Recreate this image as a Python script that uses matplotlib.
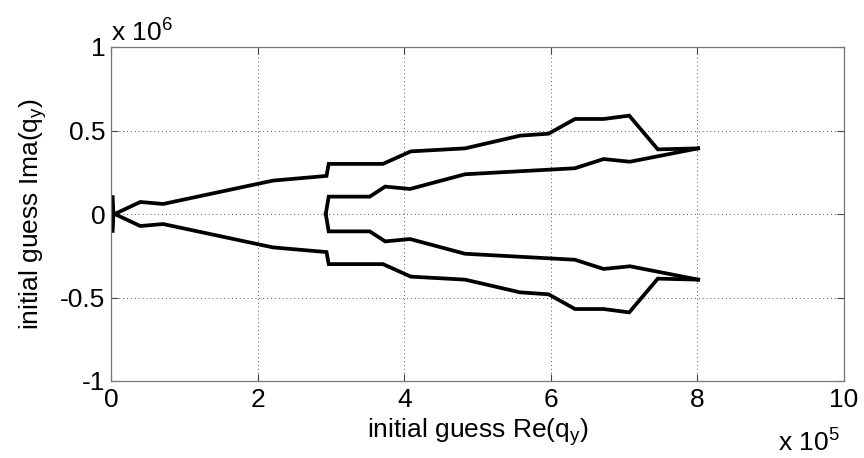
import numpy as np
import matplotlib
matplotlib.use('Agg')
import matplotlib.pyplot as plt

plt.rcParams['font.family'] = ['Liberation Sans', 'DejaVu Sans']
plt.rcParams['mathtext.fontset'] = 'custom'
plt.rcParams['mathtext.rm'] = 'Liberation Sans'

# values, x in units of 1e5, y in units of 1e6
outer_x = [0.05, 0.40, 0.71, 2.21, 2.94, 2.97, 3.71, 4.09, 4.83, 5.58, 5.97,
           6.33, 6.72, 7.07, 7.46, 8.01]
outer_y = [0.0, 0.072, 0.06, 0.20, 0.228, 0.30, 0.30, 0.375, 0.393, 0.469,
           0.481, 0.569, 0.569, 0.589, 0.387, 0.393]

inner_x = [2.93, 2.97, 3.53, 3.74, 4.08, 4.83, 6.33, 6.72, 7.08, 8.01]
inner_y = [0.0, 0.104, 0.104, 0.164, 0.150, 0.238, 0.274, 0.329, 0.313, 0.393]

start_x = [0.02, 0.03, 0.02]
start_y = [0.10, 0.0, -0.10]

x_ticks = [0, 2, 4, 6, 8, 10]
y_ticks = [-1, -0.5, 0, 0.5, 1]
x_tick_labels = ['0', '2', '4', '6', '8', '10']
y_tick_labels = ['-1', '-0.5', '0', '0.5', '1']

fig = plt.figure(figsize=(8.64, 4.58), dpi=100)
ax = fig.add_axes([111 / 864, 1 - 381 / 458, (844 - 111) / 864, (381 - 47) / 458])

line_kw = dict(color='black', linewidth=2.7, solid_joinstyle='miter')
for xs, ys in [(outer_x, outer_y), (inner_x, inner_y)]:
    xs = np.array(xs) * 1e5
    ys = np.array(ys) * 1e6
    ax.plot(xs, ys, **line_kw)
    ax.plot(xs, -ys, **line_kw)
ax.plot(np.array(start_x) * 1e5, np.array(start_y) * 1e6, color='black', linewidth=3.0)

ax.set_xlim(0, 10e5)
ax.set_ylim(-1e6, 1e6)
ax.set_xticks(np.array(x_ticks) * 1e5)
ax.set_xticklabels(x_tick_labels)
ax.set_yticks(np.array(y_ticks) * 1e6)
ax.set_yticklabels(y_tick_labels)
ax.tick_params(direction='in', length=5, width=0.8, color='#444444',
               labelsize=19, pad=4, top=True, right=True)
ax.tick_params(axis='x', pad=5)
ax.grid(True, linestyle=(0, (1, 3)), color='#555555', linewidth=0.7)
for s in ax.spines.values():
    s.set_color('#777777')
    s.set_linewidth(0.9)

ax.set_xlabel(r'initial guess Re(q$\mathregular{_y}$)', fontsize=19, labelpad=3)
ax.set_ylabel(r'initial guess Ima(q$\mathregular{_y}$)', fontsize=19, labelpad=8)

fig.text(111 / 864, 1 - 42 / 458, r'x 10$\mathregular{^6}$', fontsize=19, ha='left', va='baseline')
fig.text(778 / 864, 1 - 452 / 458, r'x 10$\mathregular{^5}$', fontsize=19, ha='left', va='baseline')

fig.savefig('out.png', dpi=100)
